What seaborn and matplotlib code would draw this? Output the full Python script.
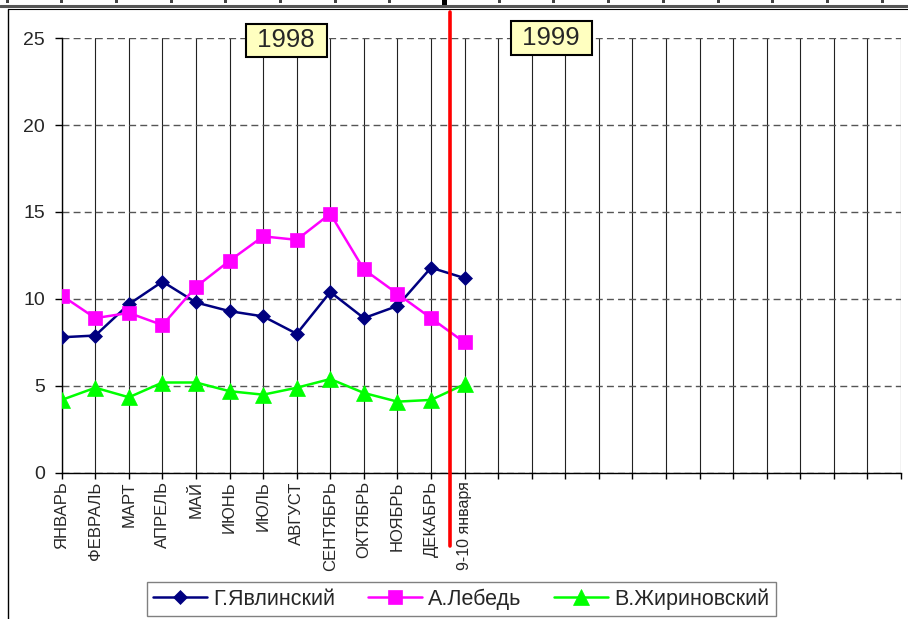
import matplotlib
matplotlib.use('Agg')  # no display in the sandbox
import matplotlib.pyplot as plt
from matplotlib.lines import Line2D
from matplotlib.patches import Rectangle
import numpy as np
import pandas as pd
import seaborn as sns

# survey periods (1998 months + January 1999 poll)
periods = ['ЯНВАРЬ', 'ФЕВРАЛЬ', 'МАРТ', 'АПРЕЛЬ', 'МАЙ', 'ИЮНЬ', 'ИЮЛЬ',
           'АВГУСТ', 'СЕНТЯБРЬ', 'ОКТЯБРЬ', 'НОЯБРЬ', 'ДЕКАБРЬ', '9-10 января']
yavlinsky = [7.8, 7.9, 9.7, 11.0, 9.8, 9.3, 9.0, 8.0, 10.4, 8.9, 9.6, 11.8, 11.2]
lebed = [10.2, 8.9, 9.2, 8.5, 10.7, 12.2, 13.6, 13.4, 14.9, 11.7, 10.3, 8.9, 7.5]
zhirinovsky = [4.2, 4.9, 4.35, 5.2, 5.2, 4.7, 4.5, 4.9, 5.4, 4.6, 4.1, 4.2, 5.1]
series_names = ['Г.Явлинский', 'А.Лебедь', 'В.Жириновский']
n_empty = 13        # empty columns reserved for 1999
year_split = 11.57  # red divider between 1998 and 1999

sns.set_style('ticks')
plt.rcParams['font.family'] = ['Liberation Sans', 'DejaVu Sans']

df = pd.DataFrame({'slot': np.arange(len(periods)), 'period': periods,
                   series_names[0]: yavlinsky, series_names[1]: lebed,
                   series_names[2]: zhirinovsky})
long = df.melt(id_vars=['slot', 'period'], var_name='name', value_name='pct')

fig = plt.figure(figsize=(9.08, 6.19), dpi=100)
ax = fig.add_axes([0.068, 0.2359, 0.9243, 0.7027])

looks = {
    'Г.Явлинский': ('#000080', 'D', 7.5),
    'А.Лебедь': ('#FF00FF', 's', 10.5),
    'В.Жириновский': ('#00FF00', '^', 11),
}
for name in series_names:
    color, marker, size = looks[name]
    sns.lineplot(data=long[long['name'] == name], x='slot', y='pct',
                 color=color, marker=marker, markersize=size,
                 markeredgecolor=color, markeredgewidth=0.5, lw=1.8,
                 sort=False, label=name, ax=ax, zorder=4)

# axes & grid
n_slots = len(periods) + n_empty
ax.set_xlim(0, n_slots - 1)
ax.set_ylim(0, 25)
ax.set_xticks(range(n_slots))
ax.set_xticklabels(periods + [''] * n_empty)
ax.set_yticks(range(0, 26, 5))
ax.set_xlabel('')
ax.set_ylabel('')
ax.tick_params(axis='x', direction='out', length=4, width=1, color='black',
               labelsize=12, labelrotation=90, pad=2, bottom=True)
ax.tick_params(axis='y', direction='out', length=5, width=1, color='black',
               labelsize=14, pad=7, left=True)
ax.get_xticklabels()[len(periods) - 1].set_fontsize(11.5)
ax.xaxis.grid(True, color='#222222', lw=0.8, ls='-')
ax.yaxis.grid(True, color='#555555', lw=1, ls=(0, (5, 3)))
ax.set_axisbelow(True)
for side in ['top', 'right']:
    ax.spines[side].set_visible(False)
for side in ['left', 'bottom']:
    ax.spines[side].set_color('black')
    ax.spines[side].set_linewidth(1)

# year divider, runs past the plot area
ax.axvline(year_split, ymin=-0.168, ymax=1.06, color='red', lw=2.6,
           clip_on=False, zorder=6)

# year labels
box = dict(boxstyle='square,pad=0.18', fc='#FFFFC0', ec='black', lw=1.5)
ax.text(6.69, 24.86, ' 1998 ', fontsize=18.5, ha='center', va='center',
        bbox=box, zorder=7, clip_on=False)
ax.text(14.58, 25.0, ' 1999 ', fontsize=18.5, ha='center', va='center',
        bbox=box, zorder=7, clip_on=False)

# legend at the bottom
handles, labels = ax.get_legend_handles_labels()
ax.get_legend().remove()
leg = fig.legend(handles, labels, loc='center', bbox_to_anchor=(0.508, 0.0323),
                 ncol=3, fontsize=15.5, frameon=True, fancybox=False,
                 edgecolor='#808080', framealpha=1, borderpad=0.3,
                 handlelength=2.5, handletextpad=0.3, columnspacing=1.5)
leg.get_frame().set_linewidth(1)

# page frame / ruler strip from the original screenshot
W, H = 908, 619
fig.add_artist(Line2D([0, 1], [1 - 5.5 / H] * 2, color='#555555', lw=2.2))
fig.add_artist(Line2D([8 / W, 1], [1 - 8.5 / H] * 2, color='black', lw=0.8))
fig.add_artist(Line2D([8 / W, 8 / W], [1 - 8.5 / H, 0], color='black', lw=1))
for x in np.arange(7, W, 54.7):
    fig.add_artist(Rectangle((x / W - 1.5 / W, 1 - 2.5 / H), 3 / W, 2.5 / H,
                             color='#444444', lw=0))
fig.add_artist(Rectangle((442 / W, 1 - 8 / H), 5 / W, 8 / H, color='black', lw=0))

plt.savefig('out.png', dpi=100)
plt.close()
